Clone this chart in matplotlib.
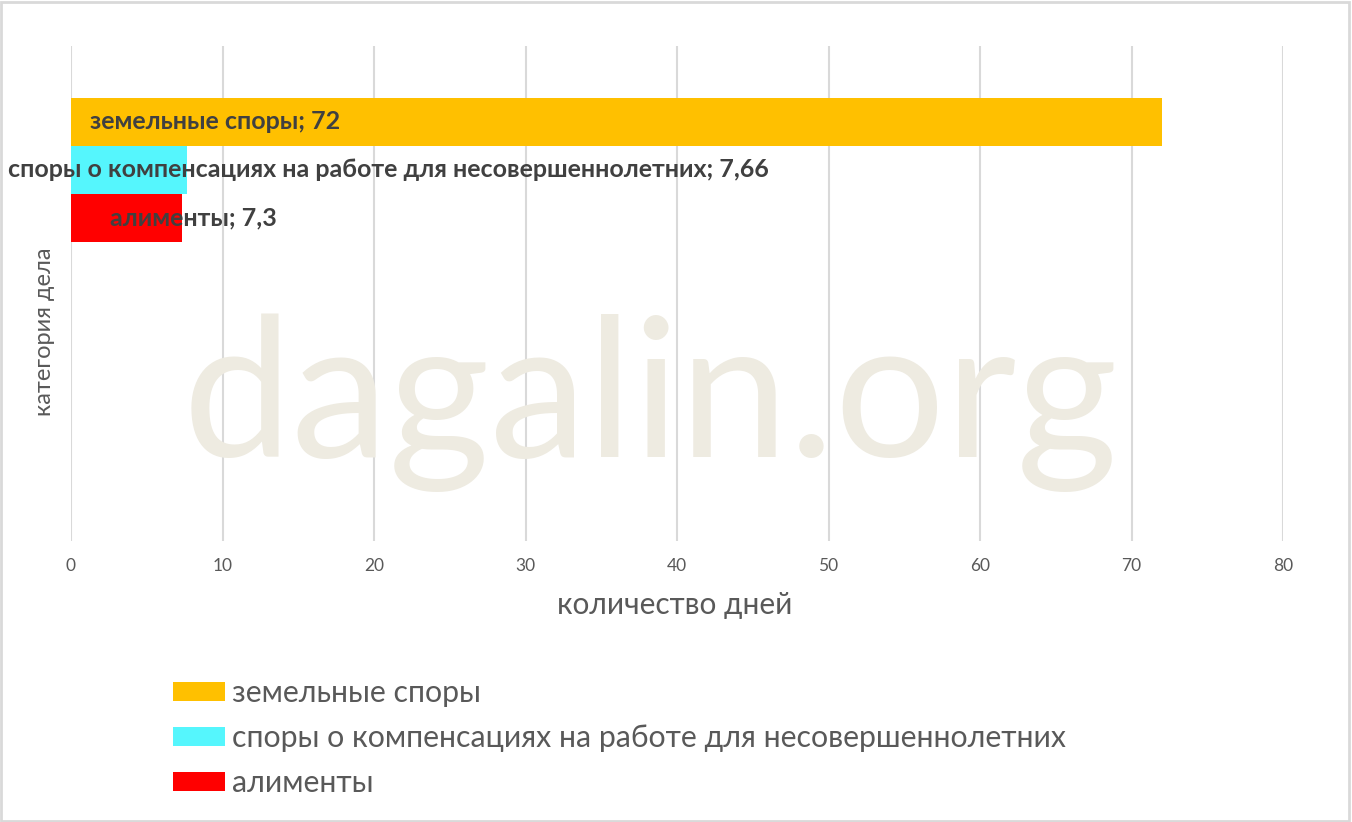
import matplotlib.pyplot as plt
from matplotlib.patches import Patch, Rectangle

# данные
categories = ['земельные споры',
              'споры о компенсациях на работе для несовершеннолетних',
              'алименты']
days = [72, 7.66, 7.3]
value_labels = ['72', '7,66', '7,3']
colors = ['#FFC000', '#55F6FD', '#FF0000']
xticks = [0, 10, 20, 30, 40, 50, 60, 70, 80]

plt.rcParams['font.family'] = ['Lato', 'DejaVu Sans']

fig = plt.figure(figsize=(13.52, 8.22), dpi=100)
ax = fig.add_axes([71 / 1352, 1 - 541 / 822, 1212 / 1352, 495 / 822])

# фон-водяной знак
fig.text(650 / 1352, 1 - 457 / 822, 'dagalin.org', fontsize=140.5, color='#EEEBE1',
         ha='center', va='baseline', zorder=0)
ax.set_facecolor('none')

# столбцы (одна категория, три серии)
bar_h = 1.0
first = 1.583
for i, (cat, val, col) in enumerate(zip(categories, days, colors)):
    ax.barh(first + i * bar_h, val, height=bar_h, color=col, zorder=3)

# подписи данных
label_x = [1.25, -4.16, 2.57]
for i, (cat, lab) in enumerate(zip(categories, value_labels)):
    ax.text(label_x[i], first + i * bar_h, f'{cat}; {lab}', fontsize=18,
            fontweight='bold', color='#404040', ha='left', va='center',
            zorder=4, clip_on=False)

ax.set_xlim(0, 80)
ax.set_ylim(495 / 48, 0)
ax.set_xticks(xticks)
ax.set_yticks([])
ax.tick_params(axis='x', length=0, pad=12, labelsize=12.5, labelcolor='#595959')
ax.grid(axis='x', color='#D9D9D9', linewidth=1.5, zorder=1)
for s in ax.spines.values():
    s.set_visible(False)

ax.set_xlabel('количество дней', fontsize=21.5, color='#595959')
ax.xaxis.set_label_coords((675 - 71) / 1212, -(605 - 541) / 495)
ax.xaxis.label.set_va('center')
ax.set_ylabel('категория дела', fontsize=17, color='#595959')
ax.yaxis.set_label_coords(-(71 - 45) / 1212, (541 - 332) / 495)
ax.yaxis.label.set_va('center')

handles = [Patch(facecolor=c, label=n) for n, c in zip(categories, colors)]
fig.legend(handles=handles, loc='upper left', bbox_to_anchor=(173 / 1352, 1 - 679 / 822),
           frameon=False, fontsize=21.8, labelcolor='#595959', handlelength=1.72,
           handleheight=0.6, handletextpad=0.23, labelspacing=0.56, borderpad=0,
           borderaxespad=0)

fig.patches.append(Rectangle((0.001, 0.001), 0.997, 0.997, transform=fig.transFigure,
                             fill=False, edgecolor='#D9D9D9', linewidth=2))

fig.savefig('out.png', dpi=100)
